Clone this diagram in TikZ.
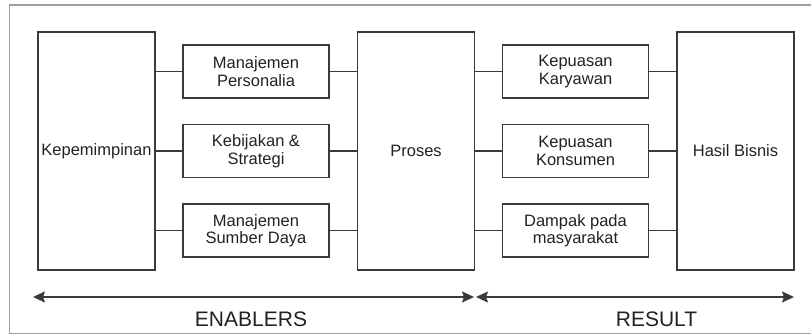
\documentclass[tikz,border=0pt]{standalone}
\usepackage{fontspec}
\setmainfont{Liberation Sans}
\usetikzlibrary{arrows.meta}
\definecolor{ln}{HTML}{3A3A3A}
\definecolor{tx}{HTML}{222222}
\begin{document}
\begin{tikzpicture}[x=1pt,y=-1pt,
  bigbox/.style={draw=ln,line width=1.3pt,minimum width=117pt,minimum height=238pt,inner sep=0pt,text=tx,font=\fontsize{16.5}{17.5}\selectfont,align=center},
  smallbox/.style={draw=ln,line width=1.3pt,minimum width=146pt,minimum height=53pt,inner sep=0pt,text=tx,font=\fontsize{16.5}{17.5}\selectfont,align=center},
  conn/.style={draw=ln,line width=1.3pt},
  dbl/.style={draw=ln,line width=1.8pt,{Stealth[length=12pt,width=11pt,inset=2pt]}-{Stealth[length=12pt,width=11pt,inset=2pt]}},
  lab/.style={text=tx,font=\fontsize{21}{22}\selectfont}]
\useasboundingbox (0,0) rectangle (811,336);
\draw[gray!75,line width=1.5pt] (9.5,5) rectangle (816,333.5);
\node[bigbox] (kep) at (96.5,151) {Kepemimpinan};
\node[bigbox] (pro) at (416,151) {Proses};
\node[bigbox] (has) at (735.5,151) {Hasil Bisnis};
\node[smallbox] (mp) at (256,71.5) {Manajemen\\Personalia};
\node[smallbox] (ks) at (256,151) {Kebijakan \&\\Strategi};
\node[smallbox] (ms) at (256,230.5) {Manajemen\\Sumber Daya};
\node[smallbox] (kk) at (575.5,71.5) {Kepuasan\\Karyawan};
\node[smallbox] (kn) at (575.5,151) {Kepuasan\\Konsumen};
\node[smallbox] (dm) at (575.5,230.5) {Dampak pada\\masyarakat};
\foreach \s/\t in {mp/pro,ks/pro,ms/pro,kk/has,kn/has,dm/has}{
  \draw[conn] (\s.east) -- (\s.east -| \t.west);}
\foreach \s/\t in {mp/kep,ks/kep,ms/kep,kk/pro,kn/pro,dm/pro}{
  \draw[conn] (\s.west) -- (\s.west -| \t.east);}
\coordinate (a1) at (33,297);
\coordinate (a2) at (474,297);
\coordinate (a3) at (476,297);
\coordinate (a4) at (794,297);
\draw[dbl] (a1) -- (a2);
\draw[dbl] (a3) -- (a4);
\node[lab] (en) at (251,319) {ENABLERS};
\node[lab] (re) at (656.5,319) {RESULT};
\end{tikzpicture}
\end{document}
